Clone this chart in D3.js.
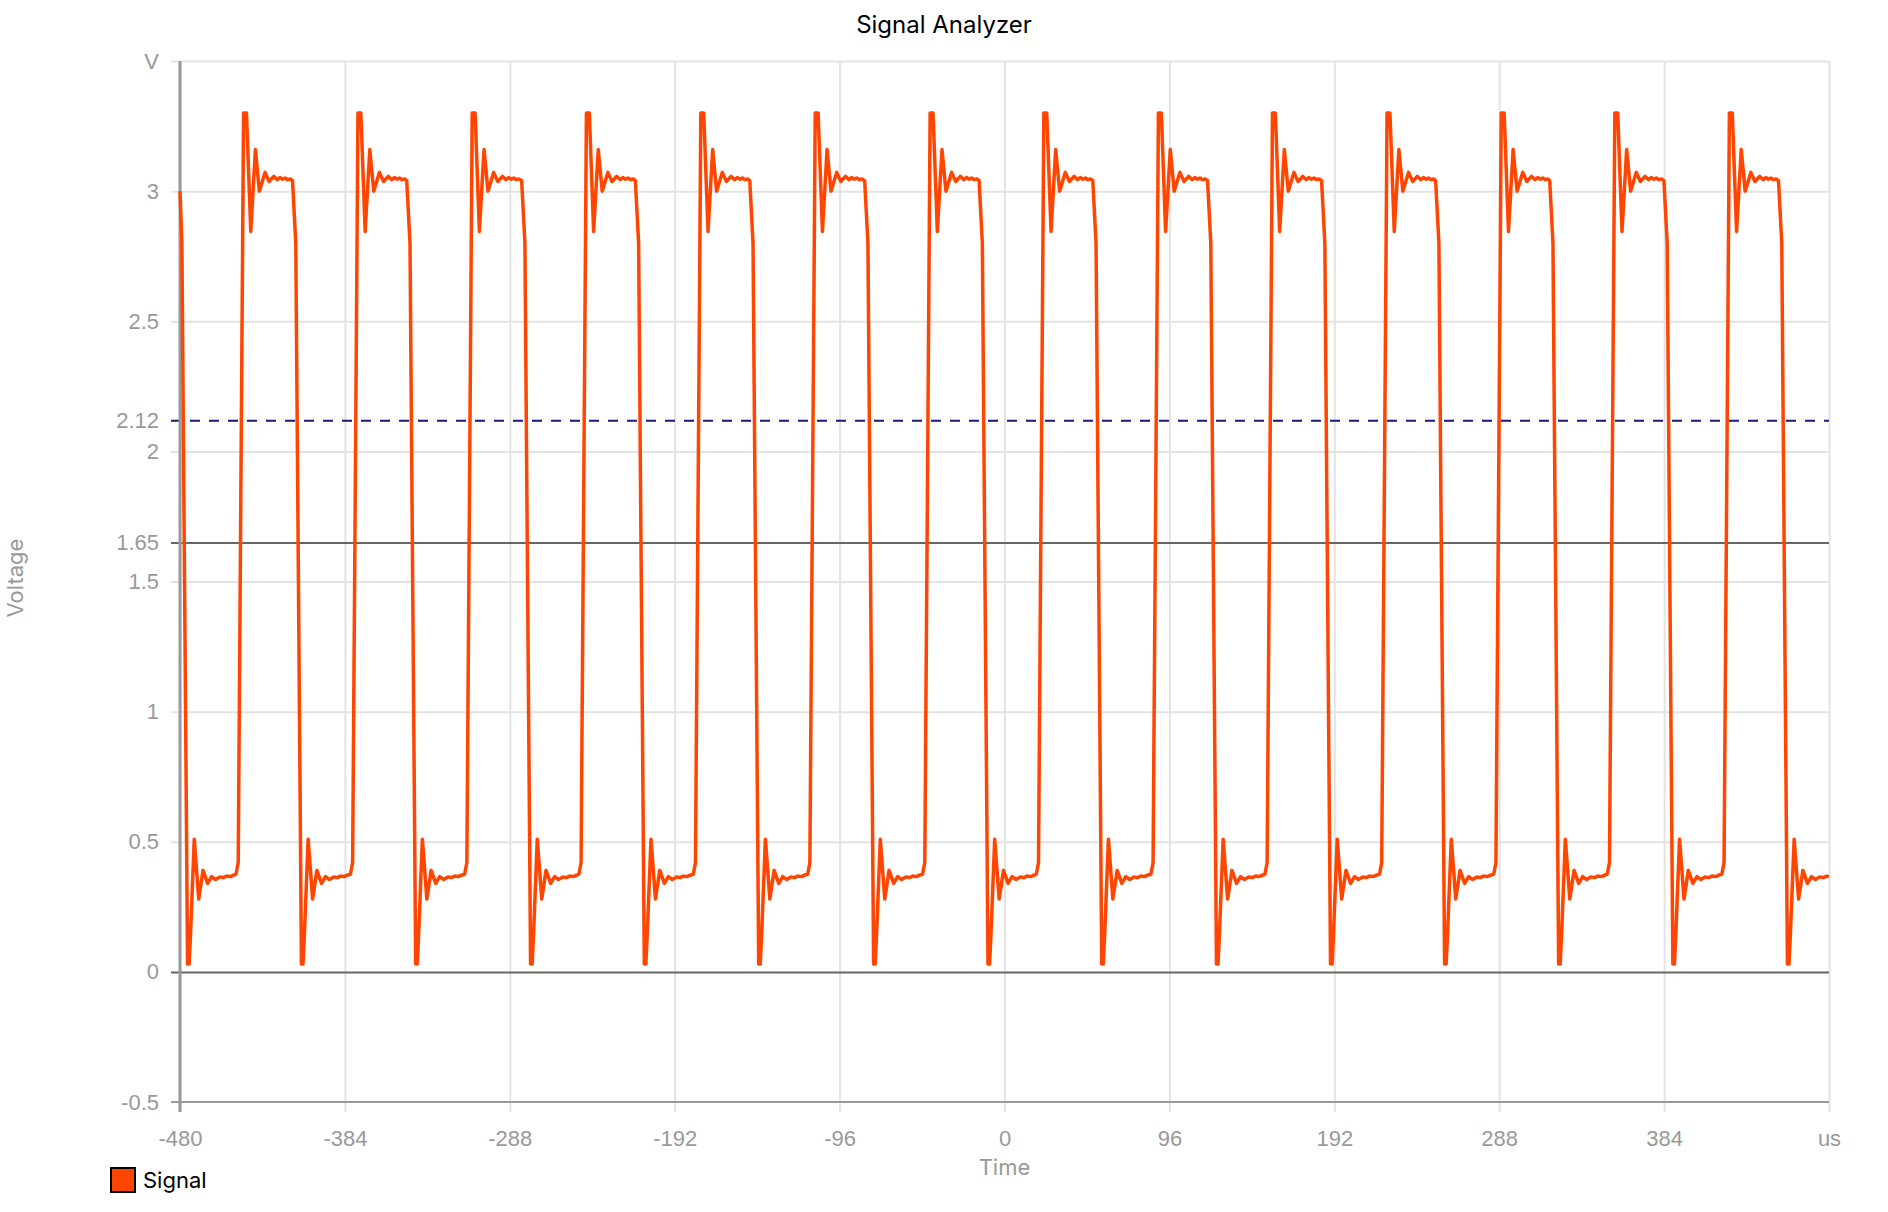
<!DOCTYPE html>
<html>
<head>
<meta charset="utf-8">
<script src="https://cdn.jsdelivr.net/npm/d3@7"></script>
<style>
  html, body { margin: 0; padding: 0; background: #fff; }
  svg { display: block; font-family: Inter, 'Noto Sans', sans-serif; }
</style>
</head>
<body>
<svg id="svg-chart" width="1888" height="1212"></svg>
<script>
// tick values and labels
const xTicks = [-480, -384, -288, -192, -96, 0, 96, 192, 288, 384, 480];
const xTickLabels = ['-480', '-384', '-288', '-192', '-96', '0', '96', '192', '288', '384', 'us'];
const yTicks = [-0.5, 0, 0.5, 1, 1.5, 1.65, 2, 2.12, 2.5, 3, 3.5];
const yTickLabels = ['-0.5', '0', '0.5', '1', '1.5', '1.65', '2', '2.12', '2.5', '3', 'V'];
const yGridTicks = [0.5, 1, 1.5, 2, 2.5, 3, 3.5];

// edge times (us) where the signal crosses 1.65 V
const fallingEdges = [-477.8, -411.5, -345.0, -278.1, -211.9, -145.3, -78.4, -11.8, 54.4, 121.2, 187.6, 254.0, 320.4, 386.9, 453.6];
const risingEdges = [-444.8, -378.2, -311.7, -245.2, -178.6, -112.0, -45.1, 21.1, 87.8, 154.2, 220.9, 287.4, 353.5, 420.2];

// sampled response around each edge: time offset (us) from crossing, voltage
const riseDt = [-2.6, -1.3, 1.8, 3.5, 6.0, 8.7, 11.0, 14.3, 16.7, 19.4, 21.5, 23.0, 24.5, 26.0, 27.5, 29.0];
const riseV = [0.375, 0.42, 3.30, 3.30, 2.845, 3.16, 3.00, 3.072, 3.037, 3.057, 3.044, 3.052, 3.046, 3.050, 3.044, 3.047];
const fallDt = [-3.0, -1.1, 2.2, 3.1, 3.9, 6.1, 8.7, 11.2, 13.9, 16.2, 18.5, 21.0, 23.0, 25.0, 27.0, 29.0];
const fallV = [3.04, 2.80, 0.03, 0.03, 0.14, 0.51, 0.28, 0.39, 0.34, 0.366, 0.355, 0.365, 0.362, 0.368, 0.366, 0.372];

const startPoint = { t: -480, v: 3.0 };
const endPoint = { t: 480, v: 0.366 };
const threshold = 2.12;
const midLevel = 1.65;

const width = 1888;
const height = 1212;
const margin = { top: 61, right: 59, bottom: 110, left: 180 };
const tickLen = 9;

const x = d3.scaleLinear()
  .domain([-480, 480])
  .range([margin.left, width - margin.right]);

const y = d3.scaleLinear()
  .domain([-0.5, 3.5])
  .range([height - margin.bottom, margin.top]);

// assemble the trace from the edges and their responses
const edges = fallingEdges.map(t => ({ t, dt: fallDt, v: fallV }))
  .concat(risingEdges.map(t => ({ t, dt: riseDt, v: riseV })))
  .sort((a, b) => a.t - b.t);

const points = [startPoint];
edges.forEach(e => {
  e.dt.forEach((d, i) => {
    const t = e.t + d;
    if (t > -480 && t < 480) points.push({ t, v: e.v[i] });
  });
});
points.push(endPoint);

const svg = d3.select('#svg-chart')
  .attr('viewBox', [0, 0, width, height]);

const gridColor = '#e3e3e3';
const textColor = '#999';
const plotW = width - margin.right - margin.left + tickLen;

// horizontal grid lines
const yGrid = svg.append('g')
  .attr('transform', `translate(${margin.left - tickLen},0)`)
  .call(d3.axisLeft(y)
    .tickValues(yGridTicks)
    .tickFormat('')
    .tickSize(-plotW));
yGrid.select('.domain').remove();
yGrid.selectAll('.tick line')
  .attr('stroke', gridColor)
  .attr('stroke-width', 2);

// x axis with full-height grid lines
const xAxis = svg.append('g')
  .attr('transform', `translate(0,${height - margin.bottom + 10})`)
  .call(d3.axisBottom(x)
    .tickValues(xTicks)
    .tickFormat((d, i) => xTickLabels[i])
    .tickSize(-(height - margin.bottom + 10 - margin.top))
    .tickPadding(18));

xAxis.select('.domain').remove();
xAxis.selectAll('.tick line')
  .attr('stroke', gridColor)
  .attr('stroke-width', 2);
xAxis.selectAll('.tick text')
  .attr('fill', textColor)
  .attr('font-size', 22);

// y axis labels plus the reference levels
const yAxis = svg.append('g')
  .attr('transform', `translate(${margin.left - tickLen},0)`)
  .call(d3.axisLeft(y)
    .tickValues(yTicks)
    .tickFormat((d, i) => yTickLabels[i])
    .tickSize(-plotW)
    .tickPadding(12));

yAxis.select('.domain').remove();
yAxis.selectAll('.tick line')
  .attr('stroke', d => d === 0 || d === midLevel ? '#666' : (d === threshold ? '#191970' : 'none'))
  .attr('stroke-width', 2)
  .attr('stroke-dasharray', d => d === threshold ? '10,9' : null);
yAxis.selectAll('.tick text')
  .attr('fill', textColor)
  .attr('font-size', 22);

// axis lines
svg.append('line')
  .attr('x1', margin.left - tickLen)
  .attr('x2', width - margin.right)
  .attr('y1', y(-0.5))
  .attr('y2', y(-0.5))
  .attr('stroke', textColor)
  .attr('stroke-width', 2);

svg.append('line')
  .attr('x1', margin.left)
  .attr('x2', margin.left)
  .attr('y1', margin.top)
  .attr('y2', height - margin.bottom + 10)
  .attr('stroke', textColor)
  .attr('stroke-width', 3);

// signal trace
svg.append('path')
  .datum(points)
  .attr('fill', 'none')
  .attr('stroke', '#ff4500')
  .attr('stroke-width', 3.5)
  .attr('stroke-linejoin', 'round')
  .attr('d', d3.line()
    .x(d => x(d.t))
    .y(d => y(d.v)));

// titles
svg.append('text')
  .attr('x', width / 2)
  .attr('y', 33)
  .attr('text-anchor', 'middle')
  .attr('font-size', 24)
  .attr('fill', '#000')
  .text('Signal Analyzer');

svg.append('text')
  .attr('x', (margin.left + width - margin.right) / 2)
  .attr('y', 1175)
  .attr('text-anchor', 'middle')
  .attr('font-size', 22)
  .attr('fill', textColor)
  .text('Time');

svg.append('text')
  .attr('transform', 'translate(23,578) rotate(-90)')
  .attr('text-anchor', 'middle')
  .attr('font-size', 22)
  .attr('fill', textColor)
  .text('Voltage');

// legend
const legend = svg.append('g')
  .attr('transform', 'translate(111,1168)');

legend.append('rect')
  .attr('width', 24)
  .attr('height', 24)
  .attr('fill', '#ff4500')
  .attr('stroke', '#000')
  .attr('stroke-width', 2);

legend.append('text')
  .attr('x', 32)
  .attr('y', 20)
  .attr('font-size', 22)
  .attr('fill', '#000')
  .text('Signal');
</script>
</body>
</html>
